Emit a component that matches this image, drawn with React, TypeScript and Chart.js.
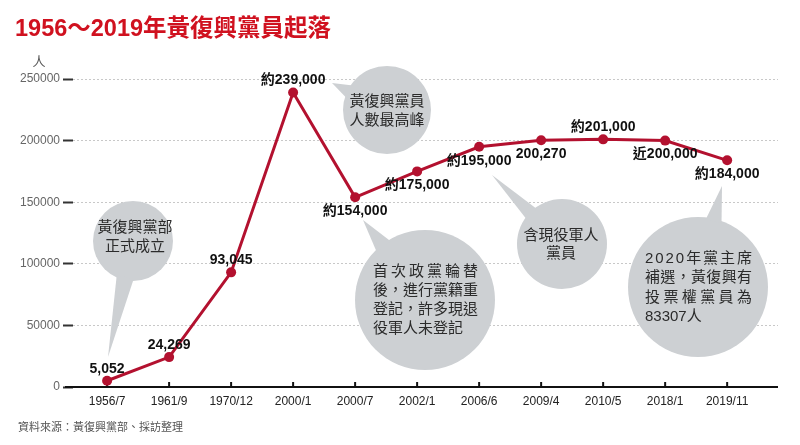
import React, { useEffect, useRef } from 'react';
import { Chart, registerables } from 'chart.js';

Chart.register(...registerables);

// ---- data ----
const categories = ['1956/7', '1961/9', '1970/12', '2000/1', '2000/7', '2002/1', '2006/6', '2009/4', '2010/5', '2018/1', '2019/11'];
const members = [5052, 24269, 93045, 239000, 154000, 175000, 195000, 200270, 201000, 200000, 184000];
const labelPrefixes = ['', '', '', '約', '約', '約', '約', '', '約', '近', '約'];
const labelPlacement = ['above', 'above', 'above', 'above', 'below', 'below', 'below', 'below', 'above', 'below', 'below'];
const yTickValues = [0, 50000, 100000, 150000, 200000, 250000];
const unitLabel = '人';
const titleText = '1956～2019年黃復興黨員起落';
const sourceText = '資料來源：黃復興黨部、採訪整理';
const notes1 = ['黃復興黨部', '正式成立'];
const notes2 = ['黃復興黨員', '人數最高峰'];
const notes3 = ['首次政黨輪替', '後，進行黨籍重', '登記，許多現退', '役軍人未登記'];
const notes4 = ['含現役軍人', '黨員'];
const notes5 = ['2020年黨主席', '補選，黃復興有', '投票權黨員為', '83307人'];

const FONT = '"Liberation Sans", "Noto Sans CJK TC", sans-serif';
const LINE_RED = '#b3112f';
const TITLE_RED = '#d0111f';
const BUBBLE = '#cdd0d3';

type Bubble = {
  cx: number; cy: number; r: number; tip: [number, number]; spread: number;
  lines: string[]; justify?: boolean; tx?: number; x0?: number; x1?: number; ty: number; lh: number;
};

const bubbles: Bubble[] = [
  { cx: 133, cy: 241, r: 40, tip: [108, 357], spread: 0.23, lines: notes1, tx: 135, ty: 228, lh: 19 },
  { cx: 387, cy: 110, r: 44, tip: [332, 83], spread: 0.17, lines: notes2, tx: 387, ty: 102, lh: 19 },
  { cx: 425, cy: 300, r: 70, tip: [363, 220], spread: 0.13, lines: notes3, justify: true, x0: 373, x1: 478, ty: 272, lh: 18.8 },
  { cx: 562, cy: 244, r: 45, tip: [492, 175], spread: 0.17, lines: notes4, tx: 561, ty: 236, lh: 18 },
  { cx: 698, cy: 287, r: 70, tip: [722, 186], spread: 0.12, lines: notes5, justify: true, x0: 645, x1: 752, ty: 259, lh: 19.3 },
];

function drawJustified(ctx: CanvasRenderingContext2D, text: string, x0: number, x1: number, y: number) {
  const chars = Array.from(text);
  const widths = chars.map((c) => ctx.measureText(c).width);
  const total = widths.reduce((a, b) => a + b, 0);
  const gap = chars.length > 1 ? (x1 - x0 - total) / (chars.length - 1) : 0;
  let x = x0;
  ctx.textAlign = 'left';
  chars.forEach((c, i) => {
    ctx.fillText(c, x, y);
    x += widths[i] + gap;
  });
}

const decorPlugin = {
  id: 'decor',
  beforeDatasetsDraw(chart: any) {
    const ctx: CanvasRenderingContext2D = chart.ctx;
    const { chartArea, scales } = chart;
    ctx.save();
    // x axis line
    const y0 = scales.y.getPixelForValue(0);
    ctx.strokeStyle = '#111';
    ctx.lineWidth = 2;
    ctx.beginPath();
    ctx.moveTo(chartArea.left - 8, y0);
    ctx.lineTo(chartArea.right, y0);
    ctx.stroke();
    // x tick marks (inward)
    ctx.lineWidth = 2;
    categories.forEach((_, i) => {
      const x = scales.x.getPixelForValue(i);
      ctx.beginPath();
      ctx.moveTo(x, y0);
      ctx.lineTo(x, y0 - 5);
      ctx.stroke();
    });
    // bubbles
    bubbles.forEach((b) => {
      ctx.fillStyle = BUBBLE;
      const th = Math.atan2(b.tip[1] - b.cy, b.tip[0] - b.cx);
      ctx.beginPath();
      ctx.arc(b.cx, b.cy, b.r, 0, Math.PI * 2);
      ctx.fill();
      ctx.beginPath();
      ctx.moveTo(b.cx + Math.cos(th - b.spread) * (b.r - 2), b.cy + Math.sin(th - b.spread) * (b.r - 2));
      ctx.lineTo(b.tip[0], b.tip[1]);
      ctx.lineTo(b.cx + Math.cos(th + b.spread) * (b.r - 2), b.cy + Math.sin(th + b.spread) * (b.r - 2));
      ctx.closePath();
      ctx.fill();
      ctx.fillStyle = '#2b2b2b';
      ctx.font = `15px ${FONT}`;
      ctx.textBaseline = 'middle';
      b.lines.forEach((line, i) => {
        const y = b.ty + i * b.lh;
        if (b.justify && i < b.lines.length - 1) {
          drawJustified(ctx, line, b.x0!, b.x1!, y);
        } else if (b.justify) {
          ctx.textAlign = 'left';
          ctx.fillText(line, b.x0!, y);
        } else {
          ctx.textAlign = 'center';
          ctx.fillText(line, b.tx!, y);
        }
      });
    });
    ctx.restore();
  },
  afterDatasetsDraw(chart: any) {
    const ctx: CanvasRenderingContext2D = chart.ctx;
    const meta = chart.getDatasetMeta(0);
    ctx.save();
    ctx.font = `bold 14px ${FONT}`;
    ctx.fillStyle = '#111';
    ctx.textAlign = 'center';
    ctx.textBaseline = 'middle';
    meta.data.forEach((pt: any, i: number) => {
      const txt = labelPrefixes[i] + members[i].toLocaleString('en-US');
      const dy = labelPlacement[i] === 'above' ? -12 : 14;
      ctx.fillText(txt, pt.x, pt.y + dy);
    });
    ctx.restore();
  },
  afterDraw(chart: any) {
    const ctx: CanvasRenderingContext2D = chart.ctx;
    ctx.save();
    ctx.textBaseline = 'middle';
    ctx.textAlign = 'left';
    ctx.fillStyle = TITLE_RED;
    ctx.font = `bold 23.5px ${FONT}`;
    ctx.fillText(titleText, 15, 30);
    ctx.fillStyle = '#555';
    ctx.font = `13px ${FONT}`;
    ctx.textAlign = 'center';
    ctx.fillText(unitLabel, 39, 62);
    ctx.textAlign = 'left';
    ctx.font = `11px ${FONT}`;
    ctx.fillText(sourceText, 18, 428);
    ctx.restore();
  },
};

export default function App() {
  const ref = useRef<HTMLCanvasElement | null>(null);
  useEffect(() => {
    if (!ref.current) return;
    const chart = new Chart(ref.current, {
      type: 'line',
      data: {
        datasets: [
          {
            data: members.map((v, i) => ({ x: i, y: v })),
            borderColor: LINE_RED,
            backgroundColor: LINE_RED,
            borderWidth: 3,
            pointRadius: 5,
            pointBackgroundColor: LINE_RED,
            pointBorderWidth: 0,
            tension: 0,
          },
        ],
      },
      options: {
        animation: false,
        responsive: false,
        devicePixelRatio: 1,
        layout: { padding: { top: 79, right: 22, bottom: 0, left: 0 } },
        plugins: { legend: { display: false }, tooltip: { enabled: false }, title: { display: false } },
        scales: {
          x: {
            type: 'linear',
            min: -0.55,
            max: 10.82,
            afterBuildTicks: (s: any) => {
              s.ticks = categories.map((_, i) => ({ value: i }));
            },
            afterFit: (s: any) => {
              s.height = 58;
            },
            grid: { display: false, drawTicks: false },
            border: { display: false },
            ticks: {
              autoSkip: false,
              maxRotation: 0,
              padding: 7,
              color: '#222',
              font: { family: '"Liberation Sans Narrow", "Liberation Sans", sans-serif', size: 12 },
              callback: (v: any) => categories[v as number] ?? '',
            },
          },
          y: {
            min: 0,
            max: 250000,
            afterBuildTicks: (s: any) => {
              s.ticks = yTickValues.map((v) => ({ value: v }));
            },
            afterFit: (s: any) => {
              s.width = 73;
            },
            grid: {
              color: '#c8c8c8',
              lineWidth: 1,
              tickColor: '#333',
              tickLength: 10,
              tickWidth: 2,
              tickBorderDash: [],
            },
            border: { display: false, dash: [2, 2] },
            ticks: {
              padding: 3,
              color: '#666',
              font: { family: FONT, size: 12 },
              callback: (v: any) => String(v),
            },
          },
        },
      },
      plugins: [decorPlugin],
    } as any);
    return () => chart.destroy();
  }, []);
  return (
    <div style={{ position: 'fixed', left: 0, top: 0, width: 800, height: 445, background: '#fff' }}>
      <canvas ref={ref} width={800} height={445} style={{ display: 'block' }} />
    </div>
  );
}
